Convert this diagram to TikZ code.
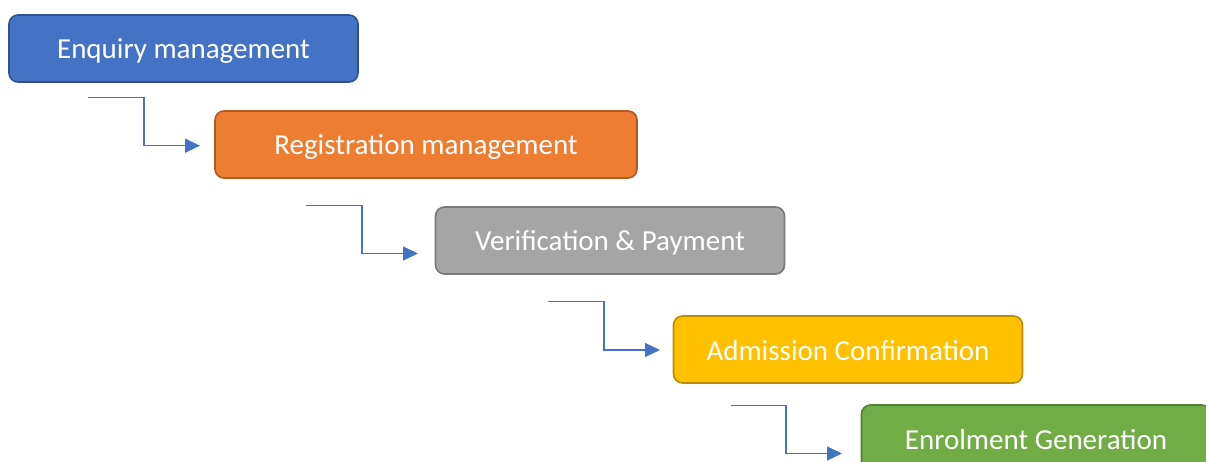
\documentclass[tikz,border=0pt]{standalone}
\usepackage{fontspec}
\setmainfont{Carlito}
\usetikzlibrary{arrows.meta}
\definecolor{cblue}{HTML}{4472C4}
\definecolor{cblueD}{HTML}{2F528F}
\definecolor{corange}{HTML}{ED7D31}
\definecolor{corangeD}{HTML}{AE5A21}
\definecolor{cgray}{HTML}{A5A5A5}
\definecolor{cgrayD}{HTML}{787878}
\definecolor{cgold}{HTML}{FFC000}
\definecolor{cgoldD}{HTML}{BC8C00}
\definecolor{cgreen}{HTML}{70AD47}
\definecolor{cgreenD}{HTML}{507E32}
\tikzset{
  stage/.style={rectangle, rounded corners=9pt, line width=1.6pt, minimum width=349pt, minimum height=67pt, inner sep=0pt, text height=21pt, text depth=0pt, text=white, font=\fontsize{29}{33}\selectfont},
  flow/.style={draw=cblue, line width=1.3pt, -{Triangle[length=15pt,width=14pt]}}
}
\begin{document}
\begin{tikzpicture}[x=1pt,y=-1pt]
\useasboundingbox (0,0) rectangle (1206,462);
\clip (0,0) rectangle (1206,462);
\node[stage, fill=cblue, draw=cblueD] (s1) at (183.5,48.5) {Enquiry management};
\node[stage, fill=corange, draw=corangeD, minimum width=422pt] (s2) at (426,144.5) {Registration management};
\node[stage, fill=cgray, draw=cgrayD] (s3) at (610,240.5) {Verification \& Payment};
\node[stage, fill=cgold, draw=cgoldD] (s4) at (848,349.5) {Admission Confirmation};
\node[stage, fill=cgreen, draw=cgreenD] (s5) at (1036,438.5) {Enrolment Generation};
\coordinate (a1s) at (88,97.5);
\coordinate (a1e) at (200,145.7);
\coordinate (a2s) at (306,205.5);
\coordinate (a2e) at (418,253.5);
\coordinate (a3s) at (548,301.5);
\coordinate (a3e) at (660,350);
\coordinate (a4s) at (731,405.5);
\coordinate (a4e) at (842,453.5);
\draw[flow] (a1s) -| (144,121) |- (a1e);
\draw[flow] (a2s) -| (362,230) |- (a2e);
\draw[flow] (a3s) -| (604,326) |- (a3e);
\draw[flow] (a4s) -| (786,430) |- (a4e);
\end{tikzpicture}
\end{document}
